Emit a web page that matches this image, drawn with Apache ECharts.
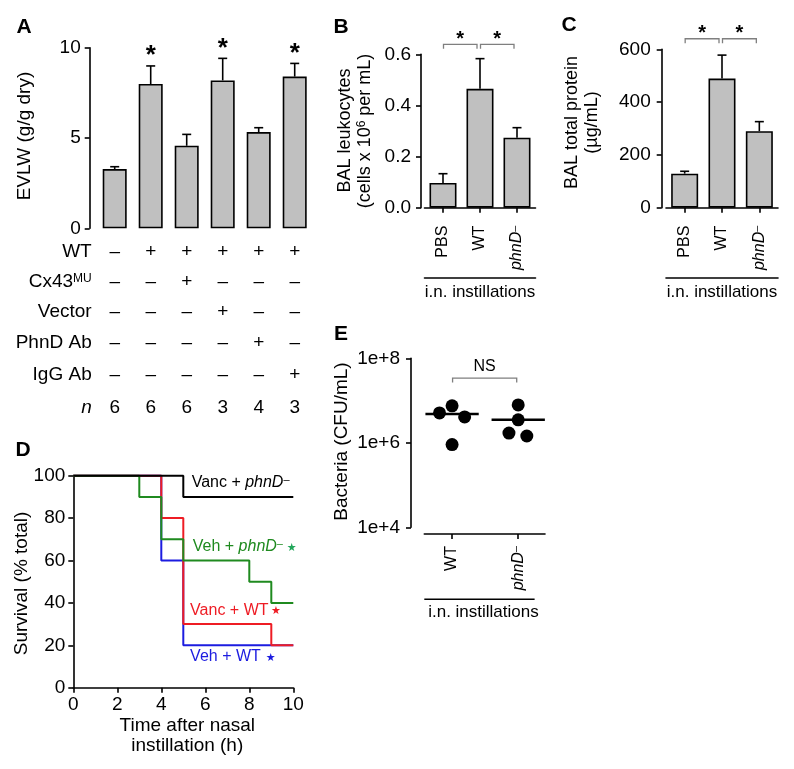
<!DOCTYPE html>
<html><head><meta charset="utf-8">
<script src="https://cdn.jsdelivr.net/npm/echarts@6/dist/echarts.min.js"></script>
<style>html,body{margin:0;padding:0;background:#fff}#c{width:794px;height:769px}</style>
</head><body><div id="c"></div><script>
// ---------- DATA ----------
// Panel A
const catsA = ['g1','g2','g3','g4','g5','g6'];
const evlwMean = [3.28, 7.99, 4.57, 8.19, 5.33, 8.40];
const evlwUpper = [3.41, 8.99, 5.20, 9.41, 5.57, 9.13];
const evlwSig = [0, 1, 0, 1, 0, 1];
const rowLabels = ['WT', 'Cx43{s|MU}', 'Vector', 'PhnD Ab', 'IgG Ab', 'n'];
const rowWT = ['–','+','+','+','+','+'];
const rowCx = ['–','–','+','–','–','–'];
const rowVector = ['–','–','–','+','–','–'];
const rowPhnDAb = ['–','–','–','–','+','–'];
const rowIgG = ['–','–','–','–','–','+'];
const rowN = ['6','6','6','3','4','3'];
// Panel B / C
const groupsBC = ['PBS', 'WT', 'phnD'];
const leukMean = [0.097, 0.465, 0.274];
const leukUpper = [0.133, 0.583, 0.313];
const protMean = [129, 489, 290];
const protUpper = [138, 578, 326];
const sigPairsBC = [[0, 1], [1, 2]];
// Panel D (Kaplan-Meier: [hour, % survival])
const vancPhnD = [[0,100],[5,90],[10,90]];
const vehPhnD = [[0,100],[3,90],[4,70],[5,60],[8,50],[9,40],[10,40]];
const vancWT = [[0,100],[4,80],[5,30],[9,20],[10,20]];
const vehWT = [[0,100],[4,60],[5,20],[10,20]];
// Panel E (CFU/mL)
const bactWT = [5.1e6, 7.5e6, 4.1e6, 9.1e5];
const bactWTJitter = [-0.19, 0, 0.19, 0];
const bactPhnD = [7.9e6, 3.5e6, 1.7e6, 1.45e6];
const bactPhnDJitter = [0, 0, -0.14, 0.13];
const bactCenter = [4.8e6, 3.5e6];

// ---------- STYLE ----------
const FONT = "'Liberation Sans', Arial, Helvetica, sans-serif";
const STAR_FONT = "'DejaVu Sans', sans-serif";
const AX = {color:'#000', width:1.6};
const GRAY = '#7f7f7f';
const COL = {black:'#000', green:'#1f8a1f', red:'#ee1c24', blue:'#1c1ce0', greenStar:'#22a65a'};

const chart = echarts.init(document.getElementById('c'));

function valueAxis(gi, min, max, interval, offset, fs, margin, fmt) {
  return {gridIndex:gi, type:'value', min, max, interval, offset,
    axisLine:{show:true, lineStyle:AX}, axisTick:{show:true, length:5, lineStyle:AX},
    splitLine:{show:false},
    axisLabel:{fontSize:fs, color:'#000', fontFamily:FONT, margin, formatter:fmt}};
}
const richPhn = {i:{fontStyle:'italic', fontSize:16, fontFamily:FONT, color:'#000'},
                 s:{fontSize:11, fontFamily:FONT, color:'#000', verticalAlign:'top'}};
function groupLabel(v){ return v === 'phnD' ? '{i|phnD}{s|–}' : v; }

// table rows under panel A
const rowData = [rowWT, rowCx, rowVector, rowPhnDAb, rowIgG, rowN];
const rowOffsets = [23.7, 53.7, 83.7, 114.7, 146.7, 179.7];
const tableAxes = rowData.map((d, k) => ({
  gridIndex:0, type:'category', data:d, position:'bottom', offset:rowOffsets[k],
  axisLine:{show:false}, axisTick:{show:false}, splitLine:{show:false},
  axisLabel:{interval:0, margin:0, verticalAlign:'middle', fontSize:19, color:'#000', fontFamily:FONT},
  name:rowLabels[k], nameLocation:'start', nameGap:5,
  nameTextStyle:{fontSize:19, color:'#000', fontFamily:FONT, align:'right', verticalAlign:'middle',
    fontStyle: rowLabels[k] === 'n' ? 'italic' : 'normal',
    rich:{s:{fontSize:12, fontFamily:FONT, color:'#000', verticalAlign:'top'}}}
}));

function errRender(params, api) {
  const x = api.value(0), m = api.value(1), u = api.value(2), sig = api.value(3);
  const p0 = api.coord([x, m]), p1 = api.coord([x, u]);
  const ls = {stroke:'#000', lineWidth:1.6};
  const ch = [
    {type:'line', shape:{x1:p0[0], y1:p0[1], x2:p1[0], y2:p1[1]}, style:ls},
    {type:'line', shape:{x1:p1[0]-4.5, y1:p1[1], x2:p1[0]+4.5, y2:p1[1]}, style:ls}
  ];
  if (sig) ch.push({type:'text', x:p1[0], y:p1[1]-10, style:{text:'*', fontSize:26, fontWeight:'bold', fontFamily:FONT, fill:'#000', align:'center', verticalAlign:'middle'}});
  return {type:'group', children:ch};
}
function bracketRender(label, fs, textGap, endPad) {
  return function(params, api) {
    const a = api.coord([api.value(0), api.value(1)]);
    const b = api.coord([api.value(2), api.value(1)]);
    const x1 = a[0] + 0.5, x2 = b[0] - endPad, y = a[1];
    const ls = {stroke:GRAY, lineWidth:1.3, fill:'none'};
    return {type:'group', children:[
      {type:'polyline', shape:{points:[[x1, y+4.5],[x1, y],[x2, y],[x2, y+4.5]]}, style:ls},
      {type:'text', x:(x1+x2)/2, y:y-textGap, style:{text:label, fontSize:fs, fontWeight: label==='*'?'bold':'normal', fontFamily:FONT, fill:'#000', align:'center', verticalAlign:'middle'}}
    ]};
  };
}

// annotation layout for panel D (data units)
const annD = [
  {x:5.38, y:96.7, text:'Vanc + {i|phnD}{s|–}', color:COL.black},
  {x:5.43, y:66.7, text:'Veh + {i|phnD}{s|–}', color:COL.green},
  {x:5.31, y:36.4, text:'Vanc + WT', color:COL.red},
  {x:5.31, y:14.6, text:'Veh + WT', color:COL.blue},
  {x:9.93, y:65.6, star:true, color:COL.greenStar},
  {x:9.21, y:35.9, star:true, color:COL.red},
  {x:8.97, y:13.9, star:true, color:COL.blue}
];

const titleStyle = (t, fs, extra) => Object.assign({text:t, fontSize:fs, fontFamily:FONT, fill:'#000', align:'center', verticalAlign:'middle'}, extra||{});
const supRich = {s:{fontSize:12, fontFamily:FONT, fill:'#000', verticalAlign:'top'}};

const option = {
  animation:false,
  backgroundColor:'#fff',
  textStyle:{fontFamily:FONT, color:'#000'},
  grid:[
    {left:96.7, top:47.7, width:216, height:180.6},
    {left:424.5, top:54.3, width:111, height:153.4},
    {left:666, top:49.3, width:112, height:158.4},
    {left:73.3, top:475.7, width:220, height:212},
    {left:424.3, top:358.3, width:120.7, height:169}
  ],
  graphic:[
    {type:'text', x:24, y:27, style:titleStyle('A', 21, {fontWeight:'bold'})},
    {type:'text', x:341, y:27, style:titleStyle('B', 21, {fontWeight:'bold'})},
    {type:'text', x:569, y:25, style:titleStyle('C', 21, {fontWeight:'bold'})},
    {type:'text', x:23, y:450, style:titleStyle('D', 21, {fontWeight:'bold'})},
    {type:'text', x:341, y:334, style:titleStyle('E', 21, {fontWeight:'bold'})},
    {type:'text', x:25, y:136, rotation:Math.PI/2, style:titleStyle('EVLW (g/g dry)', 19)},
    {type:'text', x:345, y:130.5, rotation:Math.PI/2, style:titleStyle('BAL leukocytes', 18)},
    {type:'text', x:365, y:131, rotation:Math.PI/2, style:titleStyle('(cells x 10{s|6} per mL)', 18, {rich:supRich})},
    {type:'text', x:571.7, y:122.5, rotation:Math.PI/2, style:titleStyle('BAL total protein', 18)},
    {type:'text', x:591.7, y:122.5, rotation:Math.PI/2, style:titleStyle('(µg/mL)', 18)},
    {type:'text', x:21.7, y:583.5, rotation:Math.PI/2, style:titleStyle('Survival (% total)', 19)},
    {type:'text', x:341.7, y:441.5, rotation:Math.PI/2, style:titleStyle('Bacteria (CFU/mL)', 19)}
  ],
  xAxis:[
    // 0: A main
    {gridIndex:0, type:'category', data:catsA, position:'bottom', axisLine:{show:false}, axisTick:{show:false}, axisLabel:{show:false}},
    // 1-6: A table
    ...tableAxes,
    // 7: B main
    {gridIndex:1, type:'category', data:groupsBC, position:'bottom', offset:6,
      axisLine:{show:true, lineStyle:AX}, axisTick:{show:true, alignWithLabel:true, length:5, lineStyle:AX},
      axisLabel:{interval:0, rotate:90, margin:12, fontSize:16, color:'#000', fontFamily:FONT, formatter:groupLabel, rich:richPhn}},
    // 8: B i.n.
    {gridIndex:1, type:'category', data:groupsBC, position:'bottom', offset:70,
      axisLine:{show:true, lineStyle:AX}, axisTick:{show:false}, axisLabel:{show:false},
      name:'i.n. instillations', nameLocation:'middle', nameGap:6,
      nameTextStyle:{fontSize:17, color:'#000', fontFamily:FONT}},
    // 9: C main
    {gridIndex:2, type:'category', data:groupsBC, position:'bottom', offset:6,
      axisLine:{show:true, lineStyle:AX}, axisTick:{show:true, alignWithLabel:true, length:5, lineStyle:AX},
      axisLabel:{interval:0, rotate:90, margin:12, fontSize:16, color:'#000', fontFamily:FONT, formatter:groupLabel, rich:richPhn}},
    // 10: C i.n.
    {gridIndex:2, type:'category', data:groupsBC, position:'bottom', offset:70,
      axisLine:{show:true, lineStyle:AX}, axisTick:{show:false}, axisLabel:{show:false},
      name:'i.n. instillations', nameLocation:'middle', nameGap:6,
      nameTextStyle:{fontSize:17, color:'#000', fontFamily:FONT}},
    // 11: D
    Object.assign(valueAxis(3, 0, 10, 2, 0, 19, 8), {position:'bottom',
      name:'Time after nasal\ninstillation (h)', nameLocation:'middle', nameGap:27,
      nameTextStyle:{fontSize:19, lineHeight:20, color:'#000', fontFamily:FONT, padding:[0,0,0,8]}}),
    // 12: E
    {gridIndex:4, type:'value', position:'bottom', min:0.58, max:2.405, offset:6.7,
      axisLine:{show:true, lineStyle:AX},
      axisTick:{show:true, length:5, lineStyle:AX, customValues:[1,2]},
      splitLine:{show:false},
      axisLabel:{customValues:[1,2], rotate:90, margin:12, fontSize:16, color:'#000', fontFamily:FONT,
        formatter: v => v === 1 ? 'WT' : '{i|phnD}{s|–}', rich:richPhn}}
  ],
  yAxis:[
    valueAxis(0, 0, 10, 5, 7, 19, 9),
    valueAxis(1, 0, 0.6, 0.2, 3.5, 19, 10, v => v.toFixed(1)),
    valueAxis(2, 0, 600, 200, 4.3, 19, 11),
    valueAxis(3, 0, 100, 20, 0, 19, 8),
    {gridIndex:4, type:'log', logBase:100, min:1e4, max:1e8, offset:13.3,
      axisLine:{show:true, lineStyle:AX}, axisTick:{show:true, length:5, lineStyle:AX},
      minorTick:{show:false}, splitLine:{show:false},
      axisLabel:{fontSize:19, color:'#000', fontFamily:FONT, margin:11,
        formatter: v => '1e+' + Math.round(Math.log10(v))}}
  ],
  series:[
    // A
    {type:'bar', xAxisIndex:0, yAxisIndex:0, data:evlwMean, barWidth:24,
      itemStyle:{color:'#c0c0c0', borderColor:'#000', borderWidth:1.6}},
    {type:'custom', xAxisIndex:0, yAxisIndex:0, renderItem:errRender,
      data:evlwMean.map((m,i)=>[i, m, evlwUpper[i], evlwSig[i]])},
    // B
    {type:'bar', xAxisIndex:7, yAxisIndex:1, data:leukMean, barWidth:27,
      itemStyle:{color:'#c0c0c0', borderColor:'#000', borderWidth:1.6}},
    {type:'custom', xAxisIndex:7, yAxisIndex:1, renderItem:errRender,
      data:leukMean.map((m,i)=>[i, m, leukUpper[i], 0])},
    {type:'custom', xAxisIndex:7, yAxisIndex:1, renderItem:bracketRender('*', 20, 5, 3),
      data:sigPairsBC.map(p=>[p[0], 0.639, p[1]])},
    // C
    {type:'bar', xAxisIndex:9, yAxisIndex:2, data:protMean, barWidth:27,
      itemStyle:{color:'#c0c0c0', borderColor:'#000', borderWidth:1.6}},
    {type:'custom', xAxisIndex:9, yAxisIndex:2, renderItem:errRender,
      data:protMean.map((m,i)=>[i, m, protUpper[i], 0])},
    {type:'custom', xAxisIndex:9, yAxisIndex:2, renderItem:bracketRender('*', 20, 5, 3),
      data:sigPairsBC.map(p=>[p[0], 640, p[1]])},
    // D
    {type:'line', xAxisIndex:11, yAxisIndex:3, step:'end', data:vehWT, showSymbol:false, clip:false,
      lineStyle:{color:COL.blue, width:2}},
    {type:'line', xAxisIndex:11, yAxisIndex:3, step:'end', data:vancWT, showSymbol:false, clip:false,
      lineStyle:{color:COL.red, width:2}},
    {type:'line', xAxisIndex:11, yAxisIndex:3, step:'end', data:vehPhnD, showSymbol:false, clip:false,
      lineStyle:{color:COL.green, width:2}},
    {type:'line', xAxisIndex:11, yAxisIndex:3, step:'end', data:vancPhnD, showSymbol:false, clip:false,
      lineStyle:{color:COL.black, width:2}},
    {type:'custom', xAxisIndex:11, yAxisIndex:3, data:annD.map((a,i)=>[a.x, a.y, i]),
      renderItem:(params, api) => {
        const a = annD[api.value(2)];
        const p = api.coord([api.value(0), api.value(1)]);
        if (a.star) return {type:'text', x:p[0], y:p[1], style:{text:'★', fontSize:11, fontFamily:STAR_FONT, fill:a.color, align:'center', verticalAlign:'middle'}};
        return {type:'text', x:p[0], y:p[1], style:{text:a.text, fontSize:16, fontFamily:FONT, fill:a.color, align:'left', verticalAlign:'middle',
          rich:{i:{fontStyle:'italic', fontSize:16, fontFamily:FONT, fill:a.color}, s:{fontSize:11, fontFamily:FONT, fill:a.color, verticalAlign:'top'}}}};
      }},
    // E
    {type:'scatter', xAxisIndex:12, yAxisIndex:4, symbolSize:13, itemStyle:{color:'#000', opacity:1},
      data:bactWT.map((v,i)=>[1 + bactWTJitter[i], v])},
    {type:'scatter', xAxisIndex:12, yAxisIndex:4, symbolSize:13, itemStyle:{color:'#000', opacity:1},
      data:bactPhnD.map((v,i)=>[2 + bactPhnDJitter[i], v])},
    {type:'custom', xAxisIndex:12, yAxisIndex:4, data:bactCenter.map((v,i)=>[i+1, v]),
      renderItem:(params, api) => {
        const a = api.coord([api.value(0)-0.403, api.value(1)]);
        const b = api.coord([api.value(0)+0.403, api.value(1)]);
        return {type:'line', shape:{x1:a[0], y1:a[1], x2:b[0], y2:b[1]}, style:{stroke:'#000', lineWidth:2.5}};
      }},
    {type:'custom', xAxisIndex:12, yAxisIndex:4, renderItem:bracketRender('NS', 16, 12, 1.5),
      data:[[1, 3.4e7, 2]]},
    {type:'custom', xAxisIndex:12, yAxisIndex:4, data:[[0.58, 1e4, 2.248]],
      renderItem:(params, api) => {
        const a = api.coord([api.value(0), api.value(1)]);
        const b = api.coord([api.value(2), api.value(1)]);
        const y = a[1] + 72;
        return {type:'group', children:[
          {type:'line', shape:{x1:a[0], y1:y, x2:b[0], y2:y}, style:{stroke:'#000', lineWidth:1.6}},
          {type:'text', x:(a[0]+b[0])/2 + 4, y:y + 5, style:{text:'i.n. instillations', fontSize:17, fontFamily:FONT, fill:'#000', align:'center', verticalAlign:'top'}}
        ]};
      }}
  ]
};
chart.setOption(option);
</script></body></html>
